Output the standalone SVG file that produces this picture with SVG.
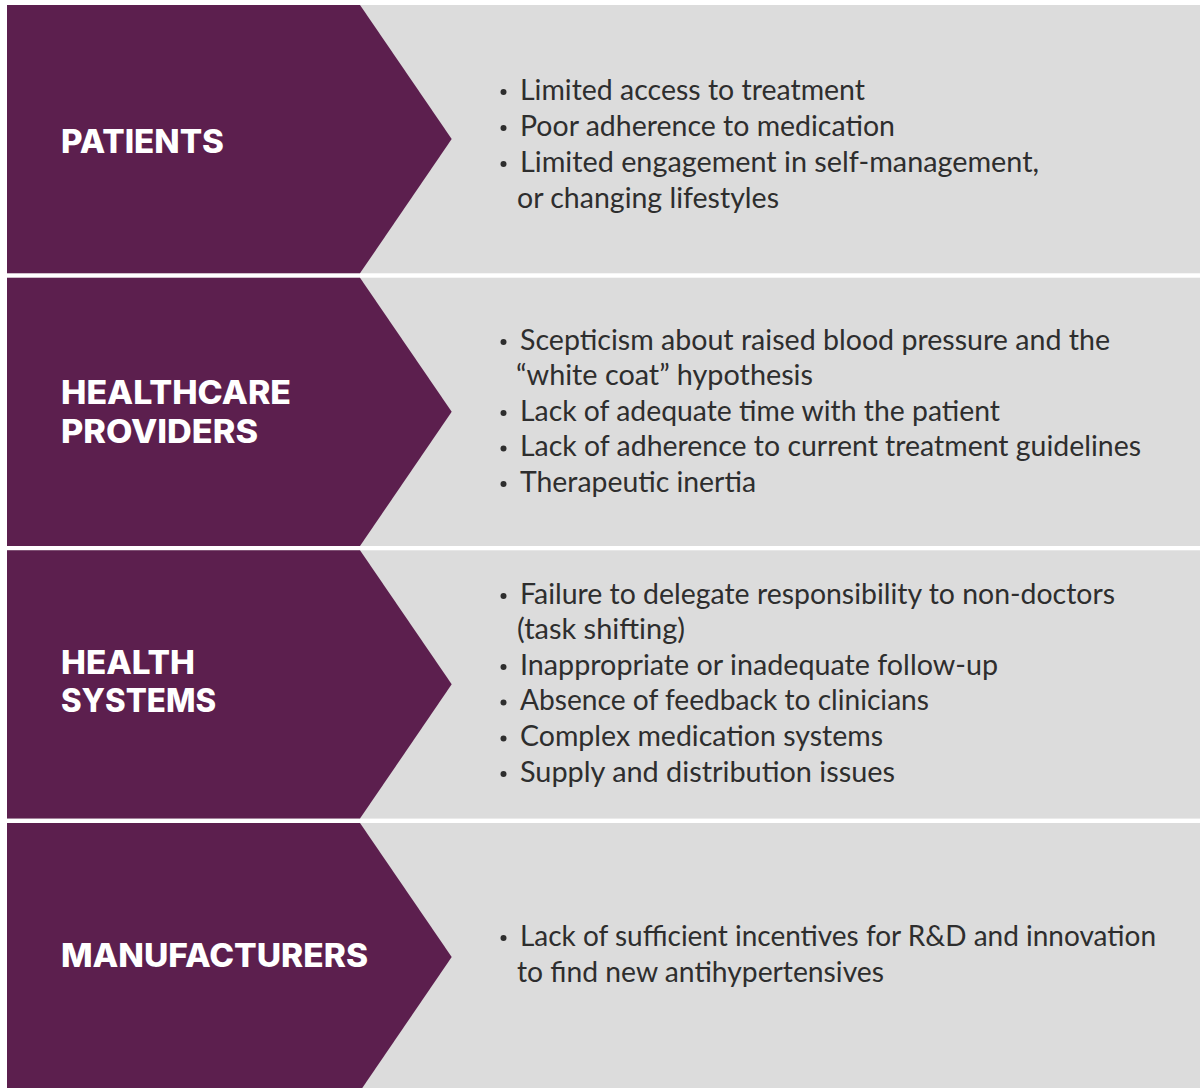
<svg xmlns="http://www.w3.org/2000/svg" width="1200" height="1088" viewBox="0 0 1200 1088">
  <style>
    .band { fill: #dcdcdc; }
    .chev { fill: #5c1f4e; }
    .head { font-family: Inter, "Liberation Sans", sans-serif; font-weight: 800; font-size: 32px; fill: #ffffff; }
    .item { font-family: Lato, "Liberation Sans", sans-serif; font-size: 29px; fill: #2e2e2e; }
    .dot { fill: #2e2e2e; }
  </style>
  <defs>
    <!-- one row: grey band with the purple chevron on its left -->
    <g id="row-shape">
      <rect class="band" x="7" y="0" width="1193" height="268.3"/>
      <polygon class="chev" points="7,0 360,0 451.7,134 360,268.3 7,268.3"/>
    </g>
    <circle id="bullet" class="dot" r="3"/>
  </defs>

  <rect width="1200" height="1088" fill="#ffffff"/>

  <!-- Patients -->
  <g id="patients">
    <use href="#row-shape" y="5"/>
    <text class="head" x="61" y="153" textLength="163" lengthAdjust="spacingAndGlyphs">PATIENTS</text>
    <use href="#bullet" x="503.5" y="92"/>
    <use href="#bullet" x="503.5" y="128"/>
    <use href="#bullet" x="503.5" y="164"/>
    <text class="item" x="520" y="100" textLength="345" lengthAdjust="spacingAndGlyphs">Limited access to treatment</text>
    <text class="item" x="520" y="136" textLength="375" lengthAdjust="spacingAndGlyphs">Poor adherence to medication</text>
    <text class="item" x="520" y="171.5" textLength="519" lengthAdjust="spacingAndGlyphs">Limited engagement in self-management,</text>
    <text class="item" x="517" y="207.5" textLength="262" lengthAdjust="spacingAndGlyphs">or changing lifestyles</text>
  </g>

  <!-- Healthcare providers -->
  <g id="healthcare-providers">
    <use href="#row-shape" y="277.7"/>
    <text class="head" x="61" y="403.5" textLength="230" lengthAdjust="spacingAndGlyphs">HEALTHCARE</text>
    <text class="head" x="61" y="443" textLength="197" lengthAdjust="spacingAndGlyphs">PROVIDERS</text>
    <use href="#bullet" x="503.5" y="342"/>
    <use href="#bullet" x="503.5" y="413"/>
    <use href="#bullet" x="503.5" y="448.5"/>
    <use href="#bullet" x="503.5" y="484"/>
    <text class="item" x="520" y="349.5" textLength="590" lengthAdjust="spacingAndGlyphs">Scepticism about raised blood pressure and the</text>
    <text class="item" x="516" y="385" textLength="297" lengthAdjust="spacingAndGlyphs">“white coat” hypothesis</text>
    <text class="item" x="520" y="420.5" textLength="480" lengthAdjust="spacingAndGlyphs">Lack of adequate time with the patient</text>
    <text class="item" x="520" y="456" textLength="621" lengthAdjust="spacingAndGlyphs">Lack of adherence to current treatment guidelines</text>
    <text class="item" x="520" y="491.5" textLength="236" lengthAdjust="spacingAndGlyphs">Therapeutic inertia</text>
  </g>

  <!-- Health systems -->
  <g id="health-systems">
    <use href="#row-shape" y="550.3"/>
    <text class="head" x="61" y="673.5" textLength="134" lengthAdjust="spacingAndGlyphs">HEALTH</text>
    <text class="head" x="61" y="712" textLength="155" lengthAdjust="spacingAndGlyphs">SYSTEMS</text>
    <use href="#bullet" x="503.5" y="596"/>
    <use href="#bullet" x="503.5" y="667"/>
    <use href="#bullet" x="503.5" y="702.5"/>
    <use href="#bullet" x="503.5" y="738.5"/>
    <use href="#bullet" x="503.5" y="774"/>
    <text class="item" x="520" y="603.5" textLength="595" lengthAdjust="spacingAndGlyphs">Failure to delegate responsibility to non-doctors</text>
    <text class="item" x="517" y="639" textLength="168" lengthAdjust="spacingAndGlyphs">(task shifting)</text>
    <text class="item" x="520" y="674.5" textLength="478" lengthAdjust="spacingAndGlyphs">Inappropriate or inadequate follow-up</text>
    <text class="item" x="520" y="710" textLength="409" lengthAdjust="spacingAndGlyphs">Absence of feedback to clinicians</text>
    <text class="item" x="520" y="746" textLength="363" lengthAdjust="spacingAndGlyphs">Complex medication systems</text>
    <text class="item" x="520" y="781.5" textLength="375" lengthAdjust="spacingAndGlyphs">Supply and distribution issues</text>
  </g>

  <!-- Manufacturers -->
  <g id="manufacturers">
    <use href="#row-shape" y="823"/>
    <text class="head" x="61" y="966.5" textLength="307" lengthAdjust="spacingAndGlyphs">MANUFACTURERS</text>
    <use href="#bullet" x="503.5" y="938"/>
    <text class="item" x="520" y="945.5" textLength="636" lengthAdjust="spacingAndGlyphs">Lack of sufficient incentives for R&amp;D and innovation</text>
    <text class="item" x="517" y="981.5" textLength="367" lengthAdjust="spacingAndGlyphs">to find new antihypertensives</text>
  </g>

  <!-- no connectors: rows stand on their own -->
  <g id="connectors"/>
</svg>
